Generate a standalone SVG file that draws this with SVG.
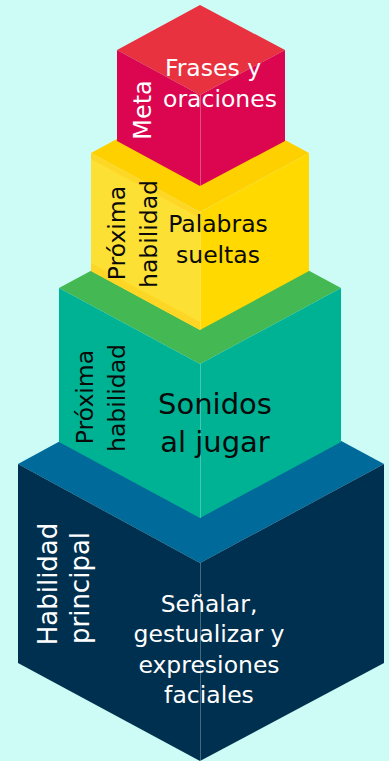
<svg xmlns="http://www.w3.org/2000/svg" width="389" height="761" viewBox="0 0 389 761">
  <style>
    text { font-family: "DejaVu Sans", Verdana, sans-serif; }
    .w { fill: #ffffff; }
    .k { fill: #0a0a0a; }
    .m { text-anchor: middle; }
    .seam { stroke: #ffffff; stroke-opacity: 0.28; stroke-width: 1; }
  </style>
  <rect x="0" y="0" width="389" height="761" fill="#ccfcf5"/>

  <g id="cube-habilidad-principal">
    <polygon points="200,365 384,464 200,563 18,464" fill="#006a9a"/>
    <polygon points="18,464 200,563 200,761 18,663" fill="#00304f"/>
    <polygon points="384,464 200,563 200,761 384,663" fill="#00304f"/>
    <line class="seam" x1="200.5" y1="563" x2="200.5" y2="761"/>
    <g font-size="26" class="w m">
      <text transform="translate(57,584) rotate(-90)">Habilidad</text>
      <text transform="translate(89,588) rotate(-90)">principal</text>
    </g>
    <g font-size="23.5" class="w m">
      <text x="209" y="612">Señalar,</text>
      <text x="209" y="642">gestualizar y</text>
      <text x="209" y="673">expresiones</text>
      <text x="209" y="703">faciales</text>
    </g>
  </g>

  <g id="cube-sonidos">
    <polygon points="200,212 341,288 200,364 59,288" fill="#44b853"/>
    <polygon points="59,288 200,364 200,518 59,442" fill="#00b294"/>
    <polygon points="341,288 200,364 200,518 341,442" fill="#00b294"/>
    <line class="seam" x1="200.5" y1="364" x2="200.5" y2="518" stroke-opacity="0.15"/>
    <g font-size="23.5" class="k m">
      <text transform="translate(93,397) rotate(-90)">Próxima</text>
      <text transform="translate(125,398) rotate(-90)">habilidad</text>
    </g>
    <g font-size="29" class="k m">
      <text x="215" y="414">Sonidos</text>
      <text x="215" y="452">al jugar</text>
    </g>
  </g>

  <g id="cube-palabras">
    <polygon points="200,94 309,153 200,212 91,153" fill="#ffd000"/>
    <polygon points="91,153 200,212 200,330 91,271" fill="#fde034"/>
    <polygon points="91,153 200,212 200,218 91,159" fill="#fed726"/>
    <polygon points="91,263 200,322 200,330 91,271" fill="#fed726"/>
    <polygon points="309,153 200,212 200,330 309,271" fill="#ffd900"/>
    <line class="seam" x1="200.5" y1="212" x2="200.5" y2="330" stroke-opacity="0.2"/>
    <g font-size="23.5" class="k m">
      <text transform="translate(125,233) rotate(-90)">Próxima</text>
      <text transform="translate(157,234) rotate(-90)">habilidad</text>
      <text x="218" y="232">Palabras</text>
      <text x="218" y="263">sueltas</text>
    </g>
  </g>

  <g id="cube-meta">
    <polygon points="200,5 285,50 200,95 117,50" fill="#e8323f"/>
    <polygon points="117,50 200,95 200,186 117,141" fill="#dc0550"/>
    <polygon points="285,50 200,95 200,186 285,141" fill="#dc0550"/>
    <line class="seam" x1="200.5" y1="95" x2="200.5" y2="186" stroke-opacity="0.15"/>
    <g font-size="23.5" class="w m">
      <text transform="translate(151,110) rotate(-90)" font-size="24">Meta</text>
      <text x="213" y="76">Frases y</text>
      <text x="220" y="107">oraciones</text>
    </g>
  </g>
</svg>
